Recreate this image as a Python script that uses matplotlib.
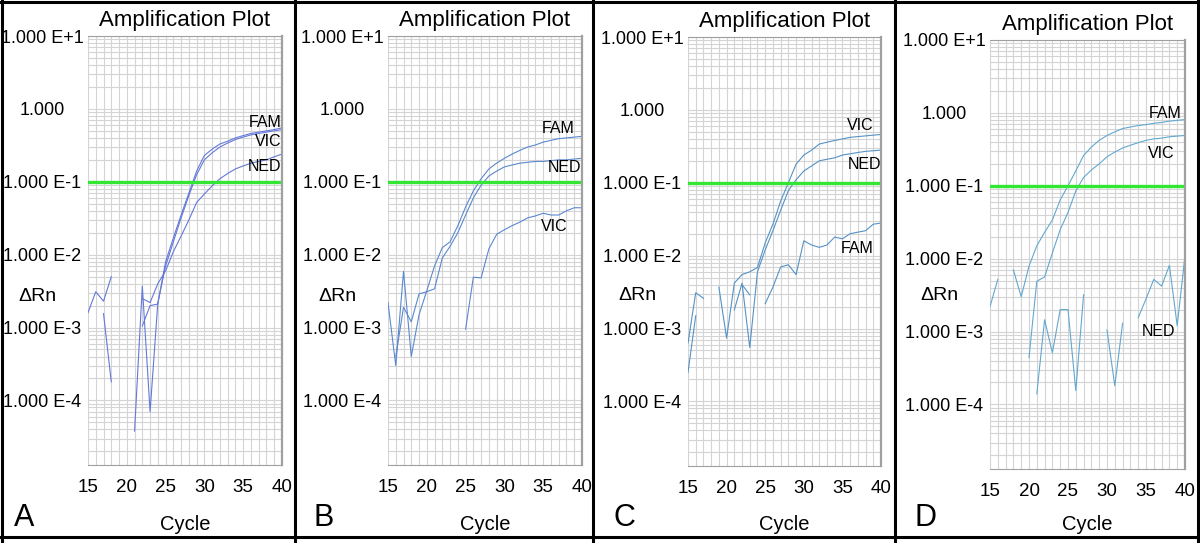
import matplotlib
matplotlib.use("Agg")
import matplotlib.pyplot as plt
from matplotlib.lines import Line2D
from matplotlib.ticker import MultipleLocator, LogLocator, NullFormatter
import numpy as np

nan = np.nan
plt.rcParams['font.family'] = ['Liberation Sans', 'DejaVu Sans']

cycles = np.arange(15, 41)

# panel A
fam_a = [1.6e-3, 3.1e-3, 2.3e-3, 5.0e-3, nan, nan, nan, 1.05e-3, 2.0e-3, 2.1e-3, 8e-3, 0.017, 0.035,
         0.07, 0.14, 0.23, 0.28, 0.33, 0.36, 0.40, 0.43, 0.46, 0.48, 0.50, 0.52, 0.55]
vic_a = [nan, nan, 1.55e-3, 1.8e-4, nan, nan, 3.8e-5, 3.7e-3, 7e-5, 2.2e-3, 7e-3, 0.015, 0.032,
         0.065, 0.125, 0.2, 0.25, 0.3, 0.34, 0.38, 0.41, 0.44, 0.46, 0.48, 0.5, 0.52]
ned_a = [nan, nan, nan, nan, nan, nan, nan, 2.5e-3, 2.2e-3, 4e-3, 6e-3, 0.011, 0.018,
         0.03, 0.052, 0.068, 0.088, 0.11, 0.13, 0.15, 0.165, 0.18, 0.19, 0.2, 0.22, 0.24]
# panel B
fam_b = [2.2e-3, 3.0e-4, 5.9e-3, 4.0e-4, 1.5e-3, 3.2e-3, 7e-3, 0.0125, 0.015, 0.025, 0.045, 0.075, 0.11,
         0.15, 0.18, 0.21, 0.24, 0.27, 0.3, 0.32, 0.35, 0.37, 0.39, 0.4, 0.41, 0.42]
ned_b = [nan, 4e-4, 1.9e-3, 1.2e-3, 2.9e-3, 3.1e-3, 3.4e-3, 9e-3, 0.013, 0.02, 0.035, 0.06, 0.09,
         0.12, 0.14, 0.16, 0.17, 0.18, 0.185, 0.19, 0.19, 0.195, 0.2, 0.2, 0.205, 0.21]
vic_b = [nan, nan, nan, nan, nan, nan, nan, nan, nan, nan, 9.5e-4, 4.9e-3, 4.8e-3,
         0.012, 0.019, 0.022, 0.025, 0.028, 0.032, 0.034, 0.037, 0.035, 0.035, 0.04, 0.044, 0.044]
# panel C
vic_c = [6.3e-4, 3.1e-3, 2.6e-3, nan, 3.7e-3, 7.4e-4, 4.2e-3, 5.5e-3, 6e-3, 6.9e-3, 0.015, 0.027, 0.056,
         0.1, 0.18, 0.24, 0.28, 0.34, 0.36, 0.38, 0.4, 0.42, 0.43, 0.44, 0.45, 0.46]
ned_c = [2.5e-4, 1.5e-3, nan, nan, nan, nan, 1.8e-3, 4.2e-3, 5.5e-4, 6e-3, 0.012, 0.022, 0.042,
         0.078, 0.11, 0.145, 0.17, 0.2, 0.21, 0.22, 0.24, 0.25, 0.26, 0.27, 0.275, 0.28]
fam_c = [nan, nan, nan, nan, nan, nan, nan, 4.0e-3, 2.9e-3, nan, 2.2e-3, 3.7e-3, 7e-3,
         7.5e-3, 5.5e-3, 0.016, 0.014, 0.013, 0.014, 0.018, 0.017, 0.02, 0.021, 0.022, 0.027, 0.028]
# panel D
fam_d = [2.2e-3, 5.2e-3, nan, 7e-3, 3e-3, 7.9e-3, 0.015, 0.023, 0.034, 0.064, 0.1, 0.16, 0.26,
         0.34, 0.42, 0.49, 0.55, 0.61, 0.64, 0.67, 0.69, 0.72, 0.74, 0.77, 0.79, 0.81]
vic_d = [nan, nan, nan, nan, nan, 4.4e-4, 4.9e-3, 5.6e-3, 0.012, 0.025, 0.043, 0.085, 0.13,
         0.165, 0.2, 0.25, 0.29, 0.33, 0.36, 0.39, 0.42, 0.44, 0.45, 0.47, 0.48, 0.49]
ned_d = [nan, nan, nan, nan, nan, nan, 1.4e-4, 1.45e-3, 5.1e-4, 2e-3, 2e-3, 1.55e-4, 3.2e-3,
         nan, nan, 1.05e-3, 1.8e-4, 1.3e-3, nan, 1.55e-3, 2.8e-3, 5.2e-3, 4.2e-3, 8.1e-3, 1.2e-3, 0.011]

threshold = 0.1
ytick_vals = [1e1, 1, 1e-1, 1e-2, 1e-3, 1e-4]
ytick_labels = ['1.000 E+1', '1.000', '1.000 E-1', '1.000 E-2', '1.000 E-3', '1.000 E-4']
xtick_vals = [15, 20, 25, 30, 35, 40]

panels = [
    ('A', [fam_a, vic_a, ned_a], '#6478d8',
     [('FAM', 39.9, 0.65), ('VIC', 39.9, 0.36), ('NED', 39.9, 0.164)]),
    ('B', [fam_b, ned_b, vic_b], '#5b88d0',
     [('FAM', 39.0, 0.54), ('NED', 39.9, 0.158), ('VIC', 38.1, 0.0242)]),
    ('C', [vic_c, ned_c, fam_c], '#5592c6',
     [('VIC', 39.0, 0.62), ('NED', 40.0, 0.18), ('FAM', 39.1, 0.0126)]),
    ('D', [fam_d, vic_d, ned_d], '#62a8d0',
     [('FAM', 39.6, 0.98), ('VIC', 38.7, 0.28), ('NED', 38.8, 1.0e-3)]),
]

W, H = 1200, 543
fig = plt.figure(figsize=(12, 5.43), dpi=100)

# axes boxes in pixels: left, top, width, height
boxes = [(88, 36, 194, 429), (388, 36, 194, 429), (688, 37, 193, 429), (990, 40, 195, 429)]

for (letter, series, color, labels), (lx, ty, w, h) in zip(panels, boxes):
    ax = fig.add_axes([lx / W, 1 - (ty + h) / H, w / W, h / H])
    ax.set_yscale('log')
    ax.set_xlim(15, 40)
    ax.set_ylim(1.3e-5, 10)
    ax.xaxis.set_minor_locator(MultipleLocator(1))
    ax.yaxis.set_minor_locator(LogLocator(base=10, subs=np.arange(2, 10)))
    ax.yaxis.set_minor_formatter(NullFormatter())
    ax.grid(True, which='both', color='#d4d4d4', lw=0.8)
    ax.set_axisbelow(True)

    for y in series:
        ax.plot(cycles, y, color=color, lw=0.8)
    ax.axhline(threshold, color='#33e633', lw=2.4)

    for name, xx, yy in labels:
        ax.text(xx, yy, name, ha='right', va='center', fontsize=11.5, color='black')

    ax.set_yticks(ytick_vals)
    ax.set_yticklabels(ytick_labels)
    ax.set_xticks(xtick_vals)
    ax.tick_params(axis='y', which='both', length=0, pad=33, labelsize=13)
    for t in ax.get_yticklabels():
        t.set_horizontalalignment('center')
    ax.tick_params(axis='x', which='both', length=0, pad=10, labelsize=13.5)

    for s in ['top', 'right', 'bottom']:
        ax.spines[s].set_color('#a0a0a0')
    ax.spines['right'].set_linewidth(1.6)
    ax.spines['left'].set_visible(False)

    ax.set_title('Amplification Plot', fontsize=16, pad=7)
    ax.set_ylabel('\u0394Rn', rotation=0, fontsize=14, va='center', ha='center')
    ax.yaxis.set_label_coords(-51 / w, 1 - (296 - ty) / h)
    ax.set_xlabel('Cycle', fontsize=14.5, va='center')
    ax.xaxis.set_label_coords(0.5, -(524 - ty - h) / h)
    fig.text((lx - 64) / W, 1 - 518 / H, letter, fontsize=22, ha='center', va='center')

# panel frames
for xp in [1.5, 295, 593, 895, 1198]:
    fig.add_artist(Line2D([xp / W, xp / W], [0, 1], color='black', lw=2.2))
for yp in [1.5, 537]:
    fig.add_artist(Line2D([0, 1], [1 - yp / H, 1 - yp / H], color='black', lw=2.2))

fig.savefig('out.png', dpi=100)
